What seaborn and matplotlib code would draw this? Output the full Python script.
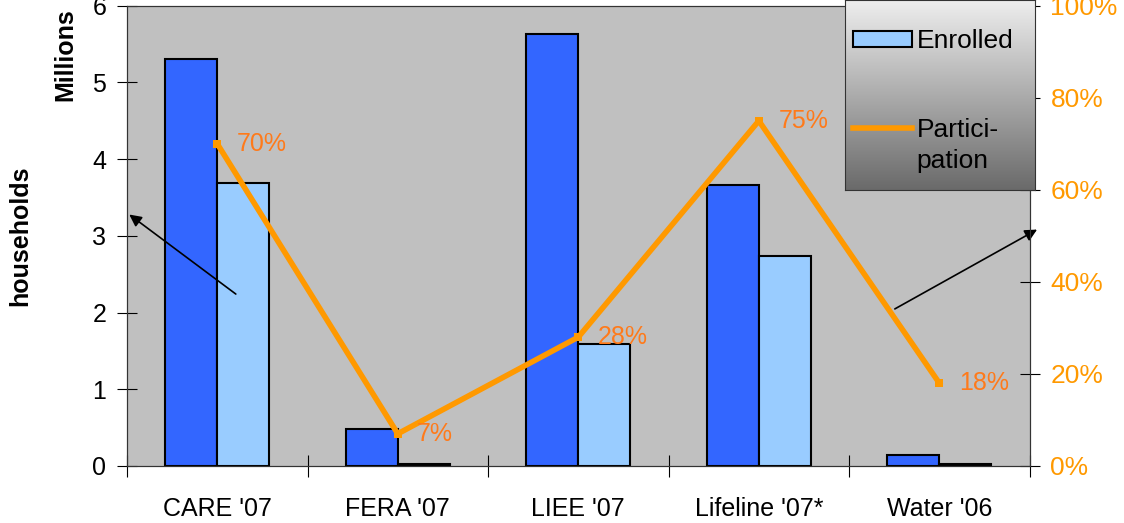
import numpy as np
import pandas as pd
import seaborn as sns
import matplotlib.pyplot as plt
from matplotlib.patches import Patch
from matplotlib.lines import Line2D
from matplotlib.colors import LinearSegmentedColormap
from matplotlib.ticker import PercentFormatter

# data (millions of households)
programs = ["CARE '07", "FERA '07", "LIEE '07", "Lifeline '07*", "Water '06"]
eligible = [5.30, 0.48, 5.63, 3.66, 0.14]
enrolled = [3.69, 0.03, 1.59, 2.74, 0.03]
participation = [0.70, 0.07, 0.28, 0.75, 0.18]

plt.rcParams['font.family'] = ['Liberation Sans', 'DejaVu Sans']

df = pd.DataFrame({
    'program': programs * 2,
    'series': ['Eligible'] * len(programs) + ['Enrolled'] * len(programs),
    'households': eligible + enrolled,
})

fig = plt.figure(figsize=(11.24, 5.23), dpi=100)
ax = fig.add_axes([0.113, 0.109, 0.803, 0.880])
ax.set_facecolor('#C0C0C0')

sns.barplot(data=df, x='program', y='households', hue='series',
            palette=['#3366FF', '#99CCFF'], saturation=1, width=0.576, gap=0,
            edgecolor='black', linewidth=1.5, legend=False, ax=ax)
ax.set_ylim(0, 6)
ax.set_xlim(-0.5, len(programs) - 0.5)
ax.set_xlabel('')
ax.set_ylabel('')
ax.set_yticks(range(7))
ax.tick_params(axis='y', direction='inout', length=14, labelsize=18, pad=8)

# category labels between boundary ticks
ax.set_xticks(np.arange(len(programs) + 1) - 0.5, labels=[''] * (len(programs) + 1))
ax.set_xticks(np.arange(len(programs)), labels=programs, minor=True)
ax.tick_params(axis='x', which='major', direction='inout', length=16)
ax.tick_params(axis='x', which='minor', length=0, labelsize=18, pad=22)
for s in ax.spines.values():
    s.set_color('#333333')

ax2 = ax.twinx()
sns.lineplot(x=np.arange(len(programs)), y=participation, ax=ax2,
             color='#FF9900', linewidth=4, marker='s', markersize=6,
             markeredgewidth=0)
ax2.set_ylim(0, 1)
ax2.set_yticks(np.arange(0, 1.01, 0.2))
ax2.yaxis.set_major_formatter(PercentFormatter(1, decimals=0))
ax2.tick_params(axis='y', direction='inout', length=14, labelsize=19,
                labelcolor='#FF9900', pad=8)
for s in ax2.spines.values():
    s.set_color('#333333')

for i, p in enumerate(participation):
    ax2.annotate(f'{p:.0%}', (i, p), xytext=(14, 0), textcoords='offset points',
                 va='center', ha='left', fontsize=18, color='#FF7A1A')

# arrows pointing to the two axes
ax.annotate('', xy=(-0.5, 3.30), xytext=(0.115, 2.22),
            arrowprops=dict(arrowstyle='-|>', color='black', lw=1.2, mutation_scale=18),
            annotation_clip=False)
ax.annotate('', xy=(4.555, 3.10), xytext=(3.74, 2.03),
            arrowprops=dict(arrowstyle='-|>', color='black', lw=1.2, mutation_scale=18),
            annotation_clip=False)

fig.text(0.058, 0.895, 'Millions', rotation=90, fontsize=18, fontweight='bold',
         ha='center', va='center')
fig.text(0.018, 0.55, 'households', rotation=90, fontsize=18, fontweight='bold',
         ha='center', va='center')

# legend box with a gray gradient
lax = fig.add_axes([845 / 1124, 1 - 190 / 523, 190 / 1124, 190 / 523])
grad = np.linspace(0, 1, 256).reshape(-1, 1)
cmap = LinearSegmentedColormap.from_list('legbg', ['#6A6A6A', '#EEEEEE'])
lax.imshow(grad, aspect='auto', cmap=cmap, origin='lower', extent=[0, 1, 0, 1])
lax.set_xticks([])
lax.set_yticks([])
for s in lax.spines.values():
    s.set_color('#333333')
handles = [Patch(facecolor='#99CCFF', edgecolor='black', linewidth=1.5),
           Line2D([0], [0], color='#FF9900', linewidth=4)]
lax.legend(handles, ['Enrolled', 'Partici-'], loc='upper left',
           bbox_to_anchor=(0.04, 0.845), frameon=False, fontsize=19,
           handlelength=2.25, handleheight=0.55, handletextpad=0.2,
           labelspacing=2.45, borderpad=0, borderaxespad=0)
lax.text(0.378, 0.155, 'pation', transform=lax.transAxes, fontsize=19,
         ha='left', va='center')

fig.savefig('out.png', dpi=100)
